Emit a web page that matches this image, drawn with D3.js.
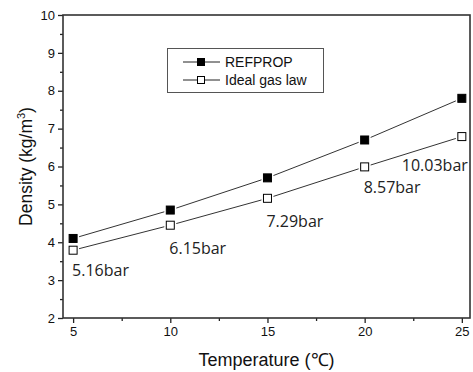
<!DOCTYPE html>
<meta charset="utf-8">
<script src="https://d3js.org/d3.v7.min.js"></script>
<style>
  body { margin: 0; background: #fff; }
  text { font-family: "Liberation Sans", Arial, sans-serif; }
</style>
<body>
<div id="canvas"></div>
<script>
  // dados
  var temps = [5, 10, 15, 20, 25];
  var refprop = [4.10, 4.85, 5.70, 6.70, 7.80];
  var idealGas = [3.79, 4.45, 5.16, 5.99, 6.79];
  var pressLabels = ["5.16bar", "6.15bar", "7.29bar", "8.57bar", "10.03bar"];
  var xTicks = [5, 10, 15, 20, 25];
  var yTicks = [2, 3, 4, 5, 6, 7, 8, 9, 10];
  var seriesNames = ["REFPROP", "Ideal gas law"];

  var width = 473, height = 372;
  var margin = {top: 15, right: 3, bottom: 54, left: 63};

  var svg = d3.select("#canvas").append("svg")
    .attr("width", width).attr("height", height);

  var w = width - margin.left - margin.right;
  var h = height - margin.top - margin.bottom;

  var g = svg.append("g")
    .attr("transform", "translate(" + margin.left + "," + margin.top + ")");

  var x = d3.scaleLinear().domain([4.48, 25.42]).range([0, w]);
  var y = d3.scaleLinear().domain([2, 10]).range([h, 0]);

  // eixo Y com ticks menores
  var yAxis = d3.axisLeft(y).tickValues(yTicks).tickSize(5).tickPadding(3).tickFormat(d3.format("d"));
  var yMinor = d3.axisLeft(y).tickValues(d3.range(2.5, 10, 1)).tickSize(3).tickFormat("");
  var xAxis = d3.axisBottom(x).tickValues(xTicks).tickSize(5).tickPadding(4).tickFormat(d3.format("d"));
  var xMinor = d3.axisBottom(x).tickValues(d3.range(7.5, 25, 5)).tickSize(3).tickFormat("");

  [g.append("g").call(yAxis), g.append("g").call(yMinor)].forEach(function(a) {
    a.select(".domain").remove();
  });
  [g.append("g").attr("transform", "translate(0," + h + ")").call(xAxis),
   g.append("g").attr("transform", "translate(0," + h + ")").call(xMinor)].forEach(function(a) {
    a.select(".domain").remove();
  });
  g.selectAll(".tick line").attr("stroke", "#222").attr("stroke-width", 1.3);
  g.selectAll(".tick text").attr("font-size", 13).attr("fill", "#111")
    .style("font-family", "'Liberation Sans', Arial, sans-serif");

  // moldura
  g.append("rect").attr("x", 0).attr("y", 0).attr("width", w).attr("height", h)
    .attr("fill", "none").attr("stroke", "#333").attr("stroke-width", 1.6);

  var line = d3.line().x(function(d) { return x(d[0]); }).y(function(d) { return y(d[1]); });

  var series = [
    {name: seriesNames[0], values: refprop, fill: "#000"},
    {name: seriesNames[1], values: idealGas, fill: "#fff"}
  ];

  series.forEach(function(s) {
    var pts = temps.map(function(t, i) { return [t, s.values[i]]; });
    g.append("path").datum(pts).attr("d", line)
      .attr("fill", "none").attr("stroke", "#333").attr("stroke-width", 1);
    // contorno branco para dar o espacinho entre linha e marcador
    g.selectAll(null).data(pts).enter().append("rect")
      .attr("x", function(d) { return x(d[0]) - 6; })
      .attr("y", function(d) { return y(d[1]) - 6; })
      .attr("width", 12).attr("height", 12).attr("fill", "#fff");
    g.selectAll(null).data(pts).enter().append("rect")
      .attr("x", function(d) { return x(d[0]) - 4; })
      .attr("y", function(d) { return y(d[1]) - 4; })
      .attr("width", 8).attr("height", 8)
      .attr("fill", s.fill).attr("stroke", "#000").attr("stroke-width", 1);
  });

  // rotulos de pressao
  var labelDy = [26, 29, 29, 26, 34];
  g.selectAll(".plabel").data(pressLabels).enter().append("text")
    .attr("class", "plabel")
    .attr("x", function(d, i) { return i === 4 ? x(temps[i]) + 6 : x(temps[i]) - 1; })
    .attr("y", function(d, i) { return y(idealGas[i]) + labelDy[i]; })
    .attr("text-anchor", function(d, i) { return i === 4 ? "end" : "start"; })
    .style("font-family", "'Open Sans', sans-serif")
    .attr("font-size", 16).attr("fill", "#222")
    .text(function(d) { return d; });

  // legenda
  var lg = svg.append("g").attr("transform", "translate(167,48)");
  lg.append("rect").attr("x", 0.5).attr("y", 0.5).attr("width", 156).attr("height", 44)
    .attr("fill", "#fff").attr("stroke", "#555").attr("stroke-width", 1);
  series.forEach(function(s, i) {
    var yy = 14 + i * 18;
    lg.append("line").attr("x1", 16).attr("x2", 53).attr("y1", yy).attr("y2", yy)
      .attr("stroke", "#222").attr("stroke-width", 1);
    lg.append("rect").attr("x", 30.5).attr("y", yy - 3.5).attr("width", 7).attr("height", 7)
      .attr("fill", s.fill).attr("stroke", "#000").attr("stroke-width", 1);
    lg.append("text").attr("x", 58).attr("y", yy + 5).attr("font-size", 14).attr("fill", "#111")
      .text(s.name);
  });

  // titulos dos eixos
  svg.append("text")
    .attr("transform", "translate(32," + (margin.top + h / 2) + ") rotate(-90)")
    .attr("text-anchor", "middle").attr("font-size", 17.5).attr("fill", "#111")
    .html('Density (kg/m<tspan dy="-7" font-size="11">3</tspan><tspan dy="7">)</tspan>');

  svg.append("text")
    .attr("x", margin.left + w / 2).attr("y", 366)
    .attr("text-anchor", "middle").attr("font-size", 18).attr("fill", "#111")
    .text("Temperature (\u2103)");
</script>
</body>
